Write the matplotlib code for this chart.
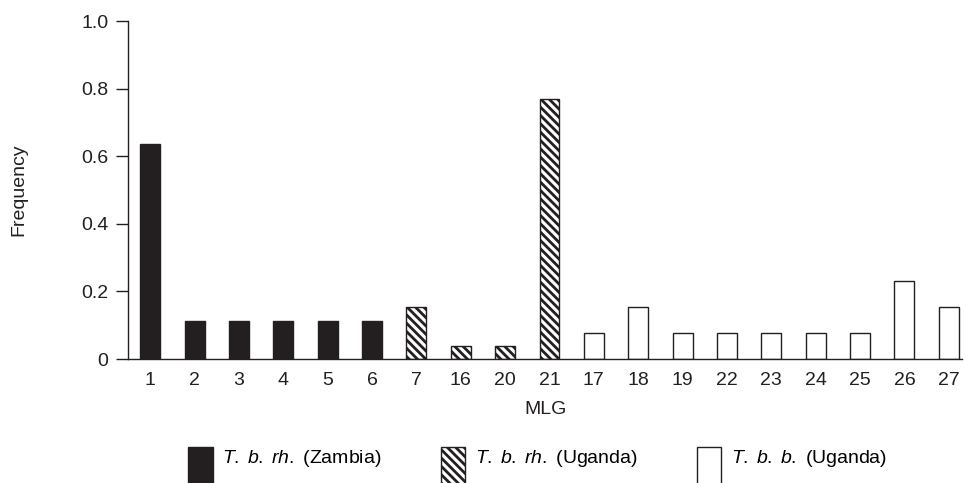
import matplotlib
matplotlib.use("Agg")
import matplotlib.pyplot as plt
import numpy as np
from matplotlib.patches import Patch, Rectangle
from matplotlib.legend_handler import HandlerPatch

plt.rcParams['font.family'] = ['Liberation Sans', 'DejaVu Sans']
plt.rcParams['mathtext.fontset'] = 'custom'
plt.rcParams['mathtext.it'] = 'Liberation Sans:italic'
plt.rcParams['mathtext.rm'] = 'Liberation Sans'
plt.rcParams['hatch.linewidth'] = 2.0

# data
mlg = ['1', '2', '3', '4', '5', '6', '7', '16', '20', '21',
       '17', '18', '19', '22', '23', '24', '25', '26', '27']
freq = [0.636, 0.111, 0.111, 0.111, 0.111, 0.111,
        0.154, 0.038, 0.038, 0.769,
        0.077, 0.154, 0.077, 0.077, 0.077, 0.077, 0.077, 0.231, 0.154]
group = ['zam'] * 6 + ['uga_rh'] * 4 + ['uga_b'] * 9

dark = '#231f20'
fs = 14
styles = {
    'zam': dict(facecolor=dark, hatch=None),
    'uga_rh': dict(facecolor='white', hatch='\\' * 4),
    'uga_b': dict(facecolor='white', hatch=None),
}
labels = {
    'zam': r'$\mathit{T.\;b.\;rh.}$ (Zambia)',
    'uga_rh': r'$\mathit{T.\;b.\;rh.}$ (Uganda)',
    'uga_b': r'$\mathit{T.\;b.\;b.}$ (Uganda)',
}

fig = plt.figure(figsize=(9.66, 4.83), dpi=100)
ax = fig.add_axes([0.1325, 0.2567, 0.8635, 0.6998])

x = np.arange(len(mlg))
for i in range(len(mlg)):
    st = styles[group[i]]
    ax.bar(x[i], freq[i], width=0.45, facecolor=st['facecolor'], hatch=st['hatch'],
           edgecolor=dark, linewidth=1.0)

ax.set_xlim(-0.5, 18.3)
ax.set_ylim(0, 1.0)
ax.set_xticks(x)
ax.set_xticklabels(mlg)
ax.set_yticks([0, 0.2, 0.4, 0.6, 0.8, 1.0])
ax.set_yticklabels(['0', '0.2', '0.4', '0.6', '0.8', '1.0'])
ax.tick_params(axis='x', length=0, pad=9, labelsize=fs, colors=dark)
ax.tick_params(axis='y', length=9, width=1.0, pad=5, labelsize=fs, colors=dark)
for s in ['top', 'right']:
    ax.spines[s].set_visible(False)
for s in ['left', 'bottom']:
    ax.spines[s].set_color(dark)
    ax.spines[s].set_linewidth(1.0)

ax.set_xlabel('MLG', fontsize=fs, color=dark, labelpad=9)
ax.set_ylabel('Frequency', fontsize=fs, color=dark, labelpad=39)


# legend boxes start at the text top and run off the bottom of the figure
def tall_box(legend, orig_handle, xdescent, ydescent, width, height, fontsize):
    extra = 22
    return Rectangle((-xdescent, -ydescent - extra), width, height + extra)


handles = [Patch(facecolor=styles[k]['facecolor'], hatch=styles[k]['hatch'],
                 edgecolor=dark, linewidth=1.0, label=labels[k])
           for k in ['zam', 'uga_rh', 'uga_b']]
fig.legend(handles=handles, loc='center left', bbox_to_anchor=(0.195, 0.052), ncol=3,
           frameon=False, fontsize=fs, handlelength=1.25, handleheight=1.0,
           columnspacing=3.05, handletextpad=0.5, borderpad=0, borderaxespad=0,
           handler_map={Patch: HandlerPatch(patch_func=tall_box)})

fig.savefig('out.png', dpi=100)
